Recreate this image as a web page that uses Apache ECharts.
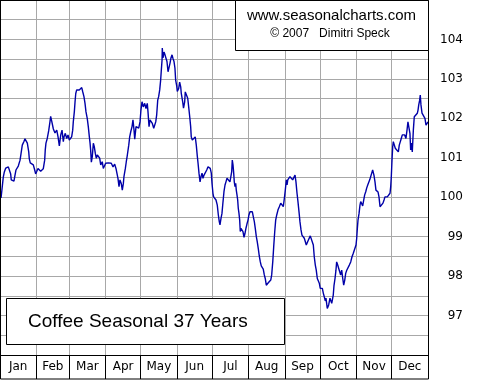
<!DOCTYPE html>
<html>
<head>
<meta charset="utf-8">
<script src="https://cdn.jsdelivr.net/npm/echarts@6/dist/echarts.min.js"></script>
<style>
html,body{margin:0;padding:0;background:#fff;}
#c{width:480px;height:380px;}
</style>
</head>
<body>
<div id="c"></div>
<script>
// ---- data (day of year, seasonal index) ----
const monthNames = ['Jan','Feb','Mar','Apr','May','Jun','Jul','Aug','Sep','Oct','Nov','Dec'];
const monthStarts = [0,31,59,90,120,151,181,212,243,273,304,334,365];
const monthMids = [15.5,45,74.5,105,135.5,166,196.5,227.5,258,288.5,319,349.5];
const yTickLabels = [97,98,99,100,101,102,103,104];
const titleText = 'Coffee Seasonal 37 Years';
const creditLine1 = 'www.seasonalcharts.com';
const creditLine2 = '\u00A9 2007   Dimitri Speck';

const days = [
0.9,2.8,3.7,4.9,5.7,7.1,7.9,9.1,9.6,10.8,11.9,12.8,13.6,14.8,15.6,17.1,17.9,19.0,20.5,21.3,21.9,23.3,24.5,25.0,25.8,27.0,28.4,29.6,30.4,
31.3,32.4,33.5,34.7,35.8,36.9,38.1,38.6,39.2,40.3,41.5,42.6,43.2,44.1,45.5,46.9,48.4,49.5,50.6,51.8,52.9,54.0,54.6,55.7,56.9,58.0,59.1,
60.3,61.1,62.0,62.5,63.4,64.0,64.6,65.4,66.5,67.6,68.8,69.7,70.5,71.6,72.5,73.3,74.4,75.3,76.2,76.8,77.3,77.9,78.7,79.6,80.4,81.3,82.1,83.0,84.2,85.0,85.9,87.2,88.1,89.3,90.1,
91.5,92.4,93.6,94.9,96.4,97.8,98.9,99.8,100.6,101.5,102.3,103.4,104.3,105.2,105.7,106.9,107.7,108.6,109.8,110.6,111.5,112.6,113.4,114.3,114.9,116.0,117.1,118.3,119.4,
120.2,121.1,122.2,123.4,124.5,125.6,126.2,127.1,127.9,129.0,129.9,131.1,131.9,132.8,133.6,134.5,135.3,136.2,137.0,137.6,138.2,138.4,139.0,139.9,140.7,141.6,142.4,143.3,144.1,145.0,145.8,146.7,147.5,148.4,149.2,149.8,150.7,
151.2,152.4,153.2,154.1,154.6,155.8,156.5,157.5,158.0,159.2,160.1,160.9,161.8,162.6,163.1,164.0,164.8,165.7,166.5,167.4,168.3,168.9,169.7,170.6,171.4,172.3,173.1,174.0,175.1,176.3,177.4,178.5,179.3,180.2,180.8,
181.6,182.2,183.6,184.2,185.3,186.2,187.0,187.6,188.5,189.3,190.2,191.0,191.9,192.7,193.6,194.4,195.3,196.1,197.0,197.6,198.1,198.7,199.3,199.8,200.4,201.0,201.5,202.1,202.7,203.2,203.8,204.4,204.9,205.5,206.4,207.2,208.1,208.9,209.8,210.6,211.5,
212.3,213.2,214.3,215.2,216.0,216.9,217.7,218.6,219.4,220.3,221.1,222.0,222.8,223.7,224.5,225.4,226.2,227.1,228.0,228.8,229.7,230.9,231.7,232.6,233.4,234.3,235.1,236.0,237.1,238.2,239.4,240.5,241.6,242.5,
243.3,244.2,244.8,245.4,246.2,247.3,248.4,249.6,250.7,251.6,252.4,253.3,254.1,255.0,255.8,256.7,257.5,258.7,259.5,260.4,261.2,262.1,262.9,263.8,264.6,265.5,266.3,267.2,268.0,268.9,269.7,270.6,271.4,272.3,273.1,
274.0,274.9,275.7,276.6,277.4,278.0,279.1,280.3,281.4,282.9,284.2,284.8,285.7,286.5,287.1,288.0,288.8,289.7,290.5,291.4,292.3,293.1,294.0,294.8,295.7,296.8,297.9,299.1,300.2,301.3,302.5,303.6,
304.2,304.7,305.3,306.2,307.0,307.6,308.5,309.3,310.2,311.0,311.9,312.7,313.6,314.4,315.3,316.1,317.0,317.8,318.3,318.9,319.8,320.6,321.5,322.4,323.2,324.1,324.9,325.8,326.6,327.5,328.3,329.2,330.3,331.5,332.6,333.2,333.7,
334.3,334.9,335.4,336.3,337.1,338.0,338.8,339.7,340.5,341.4,342.2,343.1,343.9,345.1,346.2,347.1,347.9,348.8,349.6,350.2,350.8,351.6,352.5,353.3,354.2,355.0,355.9,356.5,357.1,357.9,358.4,359.0,359.9,360.7,361.6,362.4,363.3,364.1,365.0
];
const values = [
99.98,100.51,100.64,100.74,100.69,100.77,100.74,100.59,100.44,100.49,100.41,100.56,100.69,100.64,100.79,100.94,101.10,101.32,101.42,101.48,101.50,101.37,101.15,100.97,100.87,100.84,100.82,100.69,100.59,
100.65,100.73,100.69,100.66,100.61,100.72,100.94,101.20,101.37,101.49,101.68,101.91,102.05,101.93,101.73,101.63,101.70,101.53,101.30,101.58,101.70,101.41,101.53,101.62,101.49,101.58,101.45,
101.48,101.53,101.70,101.91,102.17,102.42,102.63,102.72,102.74,102.72,102.76,102.78,102.68,102.55,102.38,102.17,102.00,101.79,101.53,101.37,101.20,100.89,101.03,101.37,101.28,101.11,100.99,101.07,101.03,100.99,100.82,100.90,100.73,100.69,100.86,
100.82,100.87,100.82,100.86,100.77,100.84,100.73,100.69,100.48,100.27,100.44,100.35,100.18,100.35,100.52,100.73,100.90,101.07,101.32,101.53,101.66,101.79,101.96,101.70,101.47,101.79,101.83,101.75,101.91,
102.21,102.42,102.29,102.38,102.25,102.38,102.17,101.79,101.96,101.96,101.87,101.75,101.75,101.91,102.08,102.46,102.55,102.72,102.97,103.23,103.48,103.78,103.53,103.68,103.61,103.66,103.44,103.18,103.23,103.40,103.53,103.61,103.52,103.44,103.27,102.97,102.82,
102.68,102.76,102.92,102.80,102.63,102.42,102.26,102.42,102.67,102.72,102.51,102.29,102.04,101.79,101.53,101.45,101.49,101.41,101.53,101.32,101.03,100.86,100.61,100.39,100.52,100.61,100.48,100.56,100.52,100.69,100.77,100.82,100.73,100.61,100.35,
100.10,100.01,100.06,99.93,99.80,99.55,99.38,99.30,99.47,99.59,99.89,100.14,100.31,100.39,100.48,100.52,100.48,100.39,100.35,100.65,100.94,100.82,100.61,100.39,100.27,100.35,100.18,100.06,99.93,99.72,99.59,99.42,99.13,99.21,99.17,99.13,98.98,99.08,99.22,99.32,99.42,
99.55,99.63,99.68,99.63,99.51,99.38,99.21,99.00,98.87,98.69,98.51,98.36,98.26,98.28,98.18,98.03,97.94,97.77,97.82,97.83,97.86,97.90,98.03,98.36,98.74,99.13,99.42,99.55,99.68,99.76,99.85,99.80,99.76,99.97,
100.18,100.44,100.31,100.44,100.49,100.52,100.49,100.44,100.48,100.56,100.39,100.10,99.89,99.63,99.38,99.17,99.04,99.00,98.96,98.87,98.79,98.83,98.91,98.96,99.02,99.04,98.97,98.79,98.49,98.28,98.15,97.94,97.90,97.82,97.69,
97.65,97.69,97.57,97.47,97.37,97.44,97.18,97.27,97.44,97.31,97.52,97.75,97.94,98.15,98.36,98.28,98.20,98.11,98.03,98.15,97.94,97.77,97.90,98.07,98.15,98.20,98.28,98.36,98.49,98.58,98.62,98.79,
98.96,99.19,99.42,99.59,99.80,99.89,99.85,99.78,99.93,100.06,100.14,100.23,100.31,100.35,100.44,100.52,100.61,100.69,100.65,100.56,100.39,100.18,100.18,100.13,100.01,99.76,99.72,99.80,99.85,99.93,100.01,100.06,100.01,100.06,100.10,100.27,100.52,
100.94,101.28,101.41,101.37,101.24,101.20,101.28,101.15,101.32,101.41,101.49,101.58,101.53,101.58,101.49,101.70,101.91,101.87,101.62,101.20,101.37,101.15,101.70,102.04,102.08,102.00,102.13,102.21,102.34,102.46,102.59,102.34,102.13,102.17,102.08,102.00,101.83,101.87,101.91
];

const seriesData = days.map((d, i) => [d, values[i]]);

const chart = echarts.init(document.getElementById('c'), null, {renderer: 'canvas'});
const gridCol = '#a8a8a8';
chart.setOption({
  animation: false,
  backgroundColor: '#ffffff',
  grid: {left: 0, right: 52, top: 0, bottom: 25, containLabel: false},
  xAxis: {
    type: 'value', min: 0, max: 365,
    axisLine: {show: true, onZero: false, lineStyle: {color: '#000', width: 1}},
    axisTick: {show: true, inside: false, length: 24, customValues: monthStarts, lineStyle: {color: '#000', width: 1}},
    splitLine: {show: true, lineStyle: {color: gridCol, width: 1}},
    axisLabel: {
      show: true, customValues: monthMids, margin: 6,
      fontFamily: 'DejaVu Sans', fontSize: 12, color: '#000',
      formatter: v => monthNames[monthMids.indexOf(v)] || ''
    }
  },
  yAxis: {
    type: 'value', position: 'right', min: 96, max: 105, interval: 0.5,
    axisLine: {show: true, lineStyle: {color: '#000', width: 1}},
    axisTick: {show: false},
    splitLine: {show: true, lineStyle: {color: gridCol, width: 1}},
    axisLabel: {
      show: true, margin: 35, align: 'right',
      fontFamily: 'DejaVu Sans', fontSize: 12, color: '#000',
      formatter: v => (yTickLabels.indexOf(v) >= 0 ? String(v) : '')
    }
  },
  series: [{
    type: 'line', data: seriesData, showSymbol: false, symbol: 'none',
    lineStyle: {color: '#0000a8', width: 1.4}, silent: true, z: 5
  }],
  graphic: [
    {type: 'rect', z: 100, shape: {x: 0.5, y: 0.5, width: 428, height: 378.5}, style: {fill: 'none', stroke: '#000', lineWidth: 1}},
    {type: 'rect', z: 100, shape: {x: 235.5, y: 0.5, width: 193, height: 50}, style: {fill: '#fff', stroke: '#000', lineWidth: 1}},
    {type: 'text', z: 101, x: 331.5, y: 16, style: {text: creditLine1, fill: '#000', font: '15px "Liberation Sans", Arial', textAlign: 'center', textVerticalAlign: 'middle'}},
    {type: 'text', z: 101, x: 330, y: 34, style: {text: creditLine2, fill: '#000', font: '12px "Liberation Sans", Arial', textAlign: 'center', textVerticalAlign: 'middle'}},
    {type: 'rect', z: 100, shape: {x: 6.5, y: 298.5, width: 278, height: 46}, style: {fill: '#fff', stroke: '#000', lineWidth: 1}},
    {type: 'text', z: 101, x: 28, y: 322, style: {text: titleText, fill: '#000', font: '19px "Liberation Sans", Arial', textAlign: 'left', textVerticalAlign: 'middle'}}
  ]
});
</script>
</body>
</html>
